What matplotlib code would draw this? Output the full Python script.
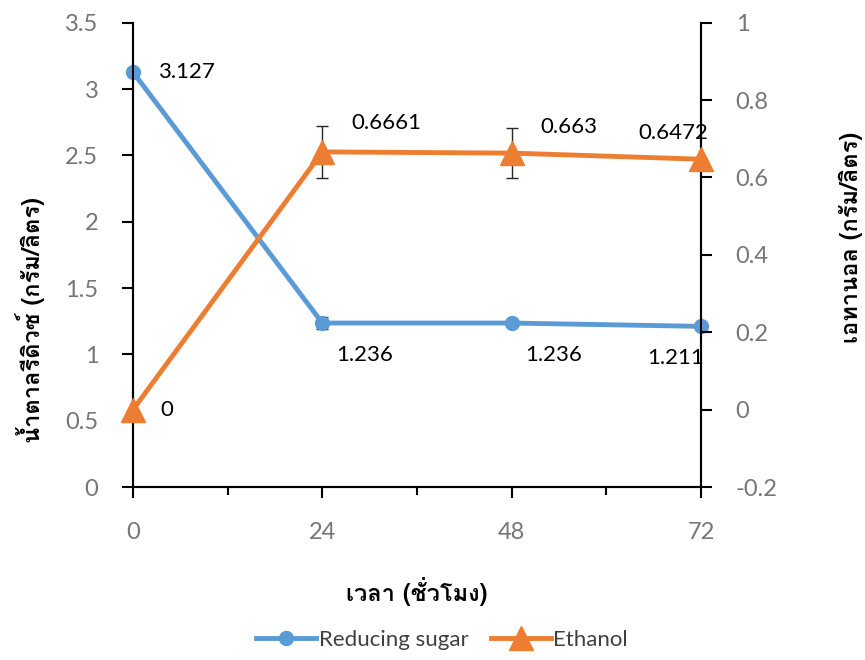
import matplotlib
matplotlib.use("Agg")
import matplotlib.pyplot as plt
from matplotlib import font_manager
from matplotlib.lines import Line2D
from matplotlib.ticker import FixedLocator, FuncFormatter


def find_thai_family():
    # pick any installed family that actually has Thai glyphs
    try:
        from fontTools.ttLib import TTFont
    except ImportError:
        return None
    for path in sorted(font_manager.findSystemFonts()):
        try:
            f = TTFont(path, fontNumber=0, lazy=True)
            cmap = f.getBestCmap() or {}
            if 0x0E01 in cmap and 0x0E32 in cmap:
                return font_manager.FontProperties(fname=path).get_name()
        except Exception:
            continue
    return None


thai = find_thai_family()
families = ([thai] if thai else []) + ["DejaVu Sans"]
plt.rcParams["font.family"] = ["Lato", "DejaVu Sans"]

hours = [0, 24, 48, 72]
sugar = [3.127, 1.236, 1.236, 1.211]
sugar_err = [0, 0.045, 0, 0]
ethanol = [0, 0.6661, 0.663, 0.6472]
ethanol_err = [0, 0.067, 0.065, 0]
sugar_labels = ["3.127", "1.236", "1.236", "1.211"]
ethanol_labels = ["0", "0.6661", "0.663", "0.6472"]

left_ticks = [0, 0.5, 1, 1.5, 2, 2.5, 3, 3.5]
right_ticks = [-0.2, 0, 0.2, 0.4, 0.6, 0.8, 1]

blue = "#5B9BD5"
orange = "#ED7D31"
grey = "#767676"

fig = plt.figure(figsize=(8.65, 6.6), dpi=100)
ax = fig.add_axes([0.1538, 0.2621, 0.8104 - 0.1538, 0.9656 - 0.2621])
ax2 = ax.twinx()

ax.errorbar(hours, sugar, yerr=sugar_err, color=blue, lw=3.5, marker="o",
            ms=10, ecolor="#262626", elinewidth=1, capsize=4, capthick=1,
            clip_on=False, zorder=3)
ax2.errorbar(hours, ethanol, yerr=ethanol_err, color=orange, lw=3.5, marker="^",
             ms=17, ecolor="#262626", elinewidth=1, capsize=4, capthick=1,
             clip_on=False, zorder=3)

ax.set_xlim(0, 72)
ax.set_ylim(0, 3.5)
ax2.set_ylim(-0.2, 1)

# value labels
lab = dict(textcoords="offset points", va="center", fontsize=16)
ax.annotate(sugar_labels[0], (hours[0], sugar[0]), xytext=(18, 0),
            ha="left", **lab)
for x, y, t in zip(hours[1:3], sugar[1:3], sugar_labels[1:3]):
    ax.annotate(t, (x, y), xytext=(10, -23), ha="left", **lab)
ax.annotate(sugar_labels[3], (hours[3], sugar[3]), xytext=(2, -23),
            ha="right", **lab)
ax2.annotate(ethanol_labels[0], (hours[0], ethanol[0]), xytext=(20, 0),
             ha="left", **lab)
ax2.annotate(ethanol_labels[1], (hours[1], ethanol[1]), xytext=(21, 21),
             ha="left", **lab)
ax2.annotate(ethanol_labels[2], (hours[2], ethanol[2]), xytext=(21, 19),
             ha="left", **lab)
ax2.annotate(ethanol_labels[3], (hours[3], ethanol[3]), xytext=(5, 19),
             ha="right", **lab)

# axes styling
for a in (ax, ax2):
    a.spines["top"].set_visible(False)
    for s in ("left", "right", "bottom"):
        a.spines[s].set_linewidth(1.5)
        a.spines[s].set_color("black")

ax.set_xticks(hours)
ax.xaxis.set_minor_locator(FixedLocator([12, 36, 60]))
ax.tick_params(axis="x", which="major", length=8, width=1.5, pad=17,
               labelsize=17, labelcolor=grey)
ax.tick_params(axis="x", which="minor", length=6, width=1.5)
ax.set_yticks(left_ticks)
ax.yaxis.set_major_formatter(FuncFormatter(lambda v, p: f"{v:g}"))
ax.tick_params(axis="y", length=8, width=1.5, pad=17, labelsize=17,
               labelcolor=grey)
ax2.set_yticks(right_ticks)
ax2.yaxis.set_major_formatter(FuncFormatter(lambda v, p: f"{v:g}"))
ax2.tick_params(axis="y", length=8, width=1.5, pad=17, labelsize=17,
                labelcolor=grey)

# axis titles
title = dict(ha="center", va="center", fontsize=17, fontweight="bold",
             family=families)
fig.text(30 / 865, 1 - 320 / 660, "น้ำตาลรีดิวซ์ (กรัม/ลิตร)", rotation=90, **title)
fig.text(851 / 865, 1 - 237 / 660, "เอทานอล (กรัม/ลิตร)", rotation=90, **title)
fig.text(417 / 865, 1 - 592 / 660, "เวลา (ชั่วโมง)", **title)

handles = [
    Line2D([], [], color=blue, lw=3.5, marker="o", ms=10),
    Line2D([], [], color=orange, lw=3.5, marker="^", ms=17),
]
fig.legend(handles, ["Reducing sugar", "Ethanol"], loc="center",
           bbox_to_anchor=(442 / 865, 1 - 640 / 660), ncol=2, frameon=False,
           fontsize=16, handlelength=2.7, handletextpad=0.1, columnspacing=1.0,
           labelcolor="#404040")

fig.savefig("out.png", dpi=100)
